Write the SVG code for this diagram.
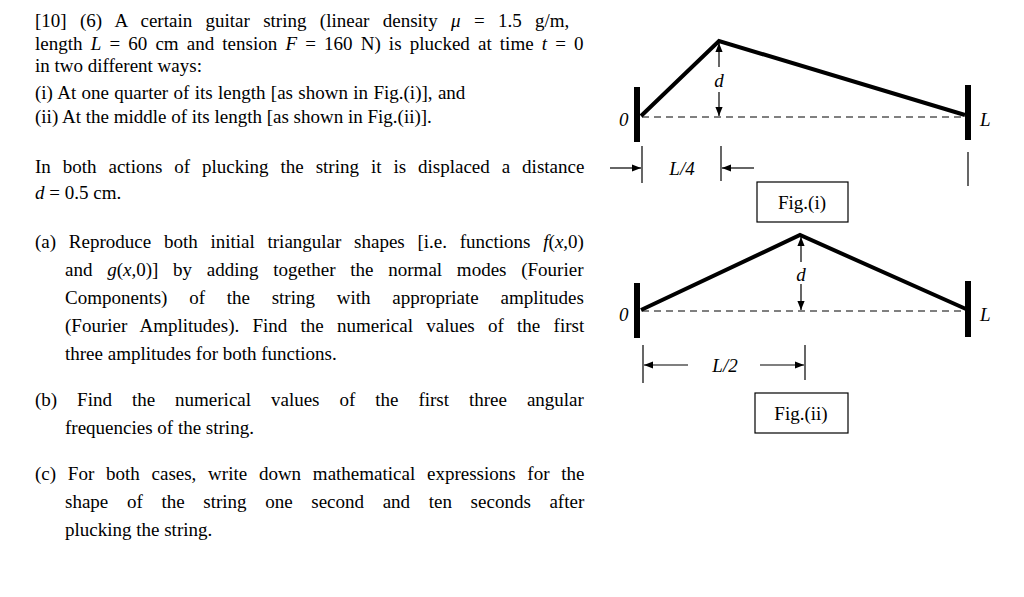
<svg xmlns="http://www.w3.org/2000/svg" width="1024" height="597" viewBox="0 0 1024 597">
<style>
text{font-family:"Liberation Serif","Times New Roman",serif;font-size:19px;fill:#000}
.i{font-style:italic}
.str{stroke:#000;stroke-width:4;fill:none;stroke-linejoin:miter}
.bar{stroke:#000;stroke-width:6}
.dash{stroke:#000;stroke-width:1;stroke-dasharray:7,5}
.thin{stroke:#000;stroke-width:1.2}
</style>
<defs>
<marker id="a" viewBox="0 0 10 10" refX="10" refY="5" markerWidth="9" markerHeight="9" markerUnits="userSpaceOnUse" orient="auto"><path d="M0,1 L10,5 L0,9 z" fill="#000"/></marker>
</defs>
<rect width="1024" height="597" fill="#fff"/>
<g id="text">
<text x="35" y="27" word-spacing="8.6">[10] (6) A certain guitar string (linear density <tspan class="i">μ</tspan> = 1.5 g/m,</text>
<text x="35" y="50" word-spacing="3.4">length <tspan class="i">L</tspan> = 60 cm and tension <tspan class="i">F</tspan> = 160 N) is plucked at time <tspan class="i">t</tspan> = 0</text>
<text x="35" y="72">in two different ways:</text>
<text x="35" y="99" word-spacing="0.6">(i)  At one quarter of its length [as shown in Fig.(i)], and</text>
<text x="35" y="123">(ii) At the middle of its length [as shown in Fig.(ii)].</text>
<text x="35" y="173" word-spacing="7.2">In both actions of plucking the string it is displaced a distance</text>
<text x="35" y="199"><tspan class="i">d</tspan> = 0.5 cm.</text>
<text x="35" y="248" word-spacing="8">(a) Reproduce both initial triangular shapes [i.e. functions <tspan class="i">f</tspan>(<tspan class="i">x</tspan>,0)</text>
<text x="65" y="276" word-spacing="10">and <tspan class="i">g</tspan>(<tspan class="i">x</tspan>,0)] by adding together the normal modes (Fourier</text>
<text x="65" y="304" word-spacing="17">Components) of the string with appropriate amplitudes</text>
<text x="65" y="332" word-spacing="8.5">(Fourier Amplitudes). Find the numerical values of the first</text>
<text x="65" y="360">three amplitudes for both functions.</text>
<text x="35" y="406" word-spacing="15.2">(b) Find the numerical values of the first three angular</text>
<text x="65" y="434">frequencies of the string.</text>
<text x="35" y="480" word-spacing="7">(c) For both cases, write down mathematical expressions for the</text>
<text x="65" y="508" word-spacing="13.9">shape of the string one second and ten seconds after</text>
<text x="65" y="536">plucking the string.</text>
</g>
<g id="fig1">
<line class="bar" x1="637" y1="87" x2="637" y2="142"/>
<line class="bar" x1="968" y1="85" x2="968" y2="140"/>
<line class="dash" x1="642" y1="117" x2="964" y2="117"/>
<polyline class="str" points="641,116 719,41 965,115"/>
<line class="thin" x1="719" y1="67" x2="719" y2="43" marker-end="url(#a)"/>
<line class="thin" x1="719" y1="92" x2="719" y2="116" marker-end="url(#a)"/>
<text class="i" x="719" y="87" text-anchor="middle">d</text>
<text class="i" x="619" y="126">0</text>
<text class="i" x="980" y="126">L</text>
<line class="thin" x1="642" y1="146" x2="642" y2="183"/>
<line class="thin" x1="721" y1="146" x2="721" y2="181"/>
<line class="thin" x1="968" y1="152" x2="968" y2="186"/>
<line class="thin" x1="610" y1="168" x2="641" y2="168" marker-end="url(#a)"/>
<line class="thin" x1="754" y1="168" x2="722" y2="168" marker-end="url(#a)"/>
<text class="i" x="682" y="175" text-anchor="middle">L/4</text>
<rect x="757" y="182" width="91" height="40" fill="none" stroke="#000" stroke-width="1.2"/>
<text x="802" y="209" text-anchor="middle">Fig.(i)</text>
</g>
<g id="fig2">
<line class="bar" x1="637" y1="283" x2="637" y2="338"/>
<line class="bar" x1="968" y1="281" x2="968" y2="337"/>
<line class="dash" x1="642" y1="311" x2="965" y2="311"/>
<polyline class="str" points="641,310 800,235 966,309"/>
<line class="thin" x1="801" y1="262" x2="801" y2="237" marker-end="url(#a)"/>
<line class="thin" x1="801" y1="284" x2="801" y2="310" marker-end="url(#a)"/>
<text class="i" x="801" y="281" text-anchor="middle">d</text>
<text class="i" x="619" y="321">0</text>
<text class="i" x="980" y="321">L</text>
<line class="thin" x1="643" y1="345" x2="643" y2="383"/>
<line class="thin" x1="805" y1="345" x2="805" y2="380"/>
<line class="thin" x1="688" y1="365" x2="644" y2="365" marker-end="url(#a)"/>
<line class="thin" x1="760" y1="365" x2="804" y2="365" marker-end="url(#a)"/>
<text class="i" x="725" y="372" text-anchor="middle">L/2</text>
<rect x="755" y="393" width="93" height="40" fill="none" stroke="#000" stroke-width="1.2"/>
<text x="801" y="420" text-anchor="middle">Fig.(ii)</text>
</g>
</svg>
